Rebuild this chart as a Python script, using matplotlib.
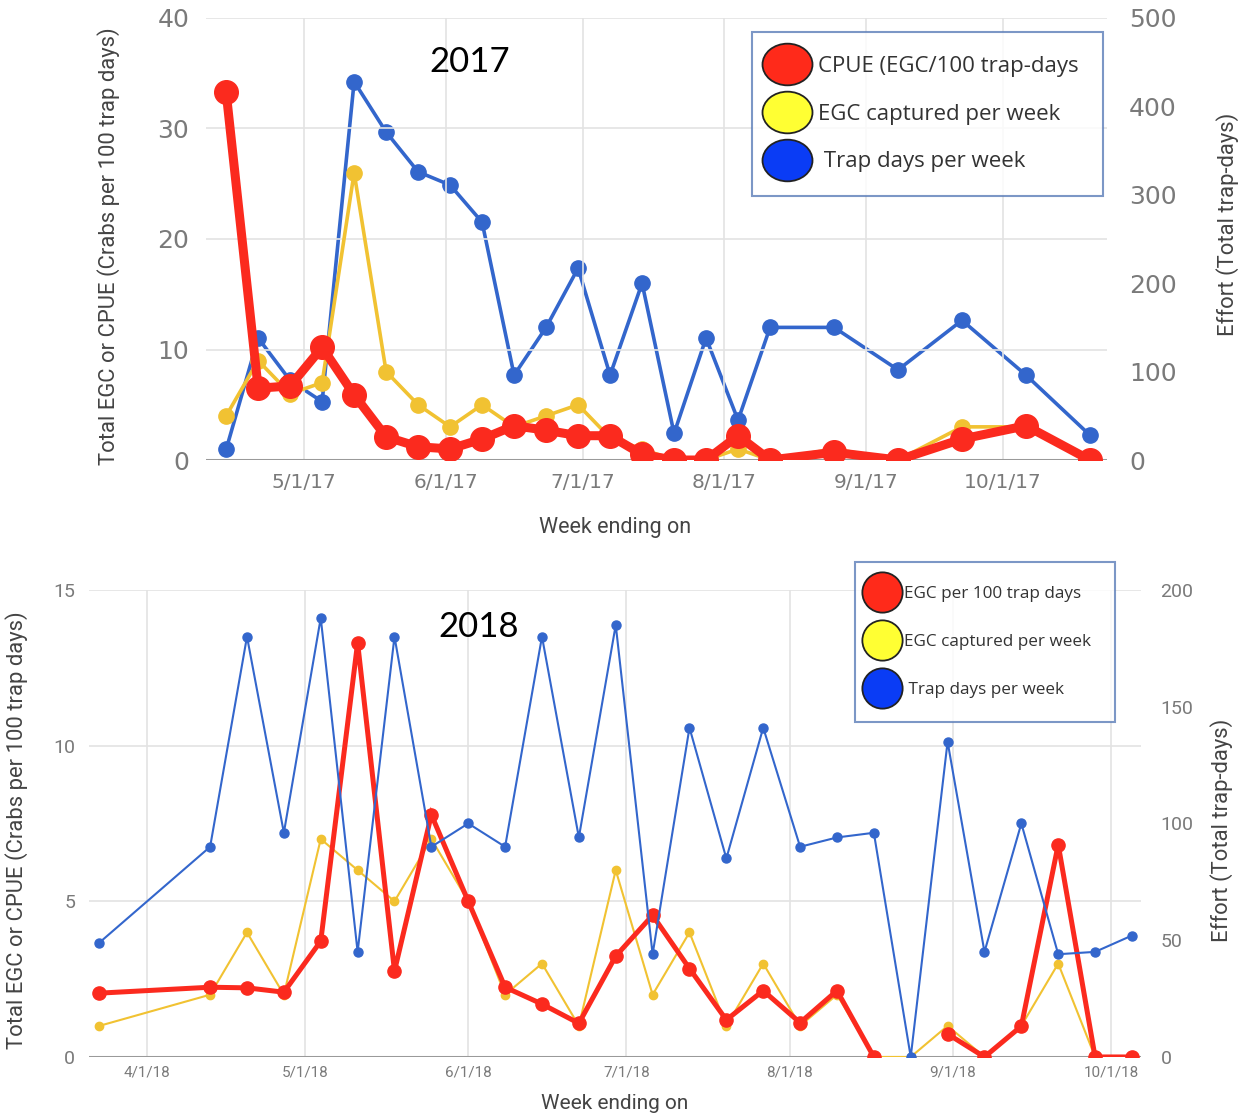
import numpy as np
import matplotlib
matplotlib.use("Agg")
import matplotlib.pyplot as plt
import matplotlib.dates as mdates
from matplotlib.lines import Line2D
from matplotlib.path import Path
from matplotlib.transforms import Affine2D
from datetime import datetime

# ---- data 2017 (week ending on) ----
dates_2017 = ["2017-04-14", "2017-04-21", "2017-04-28", "2017-05-05", "2017-05-12",
              "2017-05-19", "2017-05-26", "2017-06-02", "2017-06-09", "2017-06-16",
              "2017-06-23", "2017-06-30", "2017-07-07", "2017-07-14", "2017-07-21",
              "2017-07-28", "2017-08-04", "2017-08-11", "2017-08-25", "2017-09-08",
              "2017-09-22", "2017-10-06", "2017-10-20"]
trap_days_2017 = [12, 138, 90, 66, 428, 371, 326, 311, 269, 96, 150, 217, 96, 200,
                  30, 138, 45, 150, 150, 102, 158, 96, 28]
egc_2017 = [4, 9, 6, 7, 26, 8, 5, 3, 5, 3, 4, 5, 2, 1, 0, 0, 1, 0, 1, 0, 3, 3, 0]
cpue_2017 = [33.3, 6.5, 6.7, 10.2, 5.9, 2.1, 1.2, 1.0, 1.9, 3.1, 2.7, 2.2, 2.2, 0.5,
             0, 0, 2.2, 0, 0.7, 0, 1.9, 3.1, 0]

# ---- data 2018 ----
dates_2018 = ["2018-03-23", "2018-04-13", "2018-04-20", "2018-04-27", "2018-05-04",
              "2018-05-11", "2018-05-18", "2018-05-25", "2018-06-01", "2018-06-08",
              "2018-06-15", "2018-06-22", "2018-06-29", "2018-07-06", "2018-07-13",
              "2018-07-20", "2018-07-27", "2018-08-03", "2018-08-10", "2018-08-17",
              "2018-08-24", "2018-08-31", "2018-09-07", "2018-09-14", "2018-09-21",
              "2018-09-28", "2018-10-05"]
trap_days_2018 = [49, 90, 180, 96, 188, 45, 180, 90, 100, 90, 180, 94, 185, 44, 141,
                  85, 141, 90, 94, 96, 0, 135, 45, 100, 44, 45, 52]
egc_2018 = [1, 2, 4, 2, 7, 6, 5, 7, 5, 2, 3, 1, 6, 2, 4, 1, 3, 1, 2, 0, 0, 1, 0, 1,
            3, 0, 0]
cpue_2018 = [2.05, 2.24, 2.22, 2.08, 3.72, 13.3, 2.76, 7.78, 5.0, 2.24, 1.7, 1.08,
             3.24, 4.55, 2.84, 1.19, 2.13, 1.1, 2.13, 0, np.nan, 0.74, 0, 0.99, 6.82,
             0, 0]

legend_2017 = ["CPUE (EGC/100 trap-days", "EGC captured per week", " Trap days per week"]
legend_2018 = ["EGC per 100 trap days", "EGC captured per week", " Trap days per week"]

RED = "#fb2a1e"
YELLOW = "#f1c232"
BLUE = "#3366cc"
GRID = "#e3e3e3"
TICK = "#7a7a7a"
LABEL = "#444444"

plt.rcParams["font.family"] = ["Roboto", "DejaVu Sans"]


def to_dates(lst):
    return [datetime.strptime(s, "%Y-%m-%d") for s in lst]


def fmt_date(x, pos=None):
    d = mdates.num2date(x)
    return "%d/%d/%s" % (d.month, d.day, d.strftime("%y"))


def legend_handles(shape, size):
    return [Line2D([], [], ls="none", marker=shape, markersize=size, markerfacecolor=c,
                   markeredgecolor="#222222", markeredgewidth=1.3)
            for c in ["#ff2a1a", "#ffff33", "#0a3cf5"]]


def style_axes(ax, ax_r, months, xlim, ytop, rtop, ystep, rstep):
    ax.set_xlim(xlim)
    ax.set_ylim(0, ytop)
    ax_r.set_ylim(0, rtop)
    ax.set_xticks([mdates.date2num(m) for m in months])
    ax.xaxis.set_major_formatter(plt.FuncFormatter(fmt_date))
    ax.set_yticks(np.arange(0, ytop + 0.1, ystep))
    ax_r.set_yticks(np.arange(0, rtop + 0.1, rstep))
    ax.grid(True, color=GRID, linewidth=1.2)
    ax.set_axisbelow(True)
    for a in (ax, ax_r):
        for sp in a.spines.values():
            sp.set_visible(False)
        a.tick_params(length=0, colors=TICK)
    ax.axhline(0, color="#9a9a9a", linewidth=2.2, zorder=1)


fig = plt.figure(figsize=(12.46, 11.16), dpi=100)

# ---------------- 2017 ----------------
ax1 = fig.add_axes([0.1653, 0.5878, 0.7231, 0.3961])
ax1r = ax1.twinx()
d17 = to_dates(dates_2017)
ax1r.plot(d17, trap_days_2017, color=BLUE, linewidth=2.6, marker="o", markersize=11,
          zorder=2)
ax1.plot(d17, egc_2017, color=YELLOW, linewidth=2.6, marker="o", markersize=11, zorder=3)
ax1.plot(d17, cpue_2017, color=RED, linewidth=6.5, marker="o", markersize=17, zorder=4)
ax1.set_zorder(ax1r.get_zorder() + 1)
ax1.patch.set_visible(False)
months17 = [datetime(2017, m, 1) for m in range(5, 11)]
style_axes(ax1, ax1r, months17,
           (mdates.date2num(datetime(2017, 4, 9, 14)), mdates.date2num(datetime(2017, 10, 23, 17))),
           40, 500, 10, 100)
for lab in ax1.get_yticklabels() + ax1r.get_yticklabels():
    lab.set_fontfamily("DejaVu Sans")
    lab.set_fontsize(18)
for lab in ax1.get_xticklabels():
    lab.set_fontfamily("DejaVu Sans")
    lab.set_fontsize(14.5)
ax1.tick_params(axis="y", pad=12)
ax1r.tick_params(axis="y", pad=16)
ax1.tick_params(axis="x", pad=9)
ax1.set_ylabel("Total EGC or CPUE (Crabs per 100 trap days)", fontsize=15.8, color=LABEL)
ax1.yaxis.set_label_coords(-0.095, 0.484)
ax1r.set_ylabel("Effort (Total trap-days)", fontsize=15.8, color=LABEL)
ax1r.yaxis.set_label_coords(1.121, 0.532)
ax1.set_xlabel("Week ending on", fontsize=15.5, color=LABEL)
ax1.xaxis.set_label_coords(0.454, -0.128)
ax1.text(0.293, 0.90, "2017", transform=ax1.transAxes, fontsize=25, family="Lato",
         ha="center", va="center", color="black")
ellipse = Path.unit_circle().transformed(Affine2D().scale(1.2, 1.0))
leg1 = ax1.legend(legend_handles(ellipse, 36), legend_2017, loc="upper left",
                  bbox_to_anchor=(0.6035, 0.9713), bbox_transform=fig.transFigure,
                  borderaxespad=0, frameon=True, fancybox=False,
                  labelspacing=1.2, handletextpad=0.9, borderpad=1.08, handlelength=1.0,
                  prop={"family": "Open Sans", "size": 16})
leg1.get_frame().set_edgecolor("#5b7db8")
leg1.get_frame().set_linewidth(1.5)
for t in leg1.get_texts():
    t.set_color("#333333")

# ---------------- 2018 ----------------
ax2 = fig.add_axes([0.0714, 0.0529, 0.8443, 0.4185])
ax2r = ax2.twinx()
d18 = to_dates(dates_2018)
ax2.plot(d18, egc_2018, color=YELLOW, linewidth=1.5, marker="o", markersize=6, zorder=3)
ax2.plot(d18, cpue_2018, color=RED, linewidth=3.6, marker="o", markersize=9.5, zorder=4,
         solid_joinstyle="miter")
ax2r.plot(d18, trap_days_2018, color=BLUE, linewidth=1.5, marker="o", markersize=6.5,
          zorder=5)
months18 = [datetime(2018, m, 1) for m in range(4, 11)]
style_axes(ax2, ax2r, months18,
           (mdates.date2num(datetime(2018, 3, 21)), mdates.date2num(datetime(2018, 10, 6, 17))),
           15, 200, 5, 50)
ax2.tick_params(axis="y", labelsize=14, pad=10)
ax2r.tick_params(axis="y", labelsize=14, pad=14)
ax2.tick_params(axis="x", labelsize=11, pad=6)
ax2.set_ylabel("Total EGC or CPUE (Crabs per 100 trap days)", fontsize=15.8, color=LABEL)
ax2.yaxis.set_label_coords(-0.058, 0.486)
ax2r.set_ylabel("Effort (Total trap-days)", fontsize=15.8, color=LABEL)
ax2r.yaxis.set_label_coords(1.0656, 0.486)
ax2.set_xlabel("Week ending on", fontsize=15, color=LABEL)
ax2.xaxis.set_label_coords(0.5, -0.08)
ax2.text(0.37, 0.921, "2018", transform=ax2.transAxes, fontsize=25, family="Lato",
         ha="center", va="center", color="black")
leg2 = ax2r.legend(legend_handles("o", 29), legend_2018, loc="upper left",
                   bbox_to_anchor=(0.6862, 0.4964), bbox_transform=fig.transFigure,
                   borderaxespad=0, frameon=True, fancybox=False,
                   labelspacing=1.87, handletextpad=1.15, borderpad=1.4, handlelength=0.34,
                   prop={"family": "Open Sans", "size": 12.3})
leg2.get_frame().set_edgecolor("#5b7db8")
leg2.get_frame().set_linewidth(1.5)
for t in leg2.get_texts():
    t.set_color("#333333")

fig.savefig("out.png", dpi=100)
